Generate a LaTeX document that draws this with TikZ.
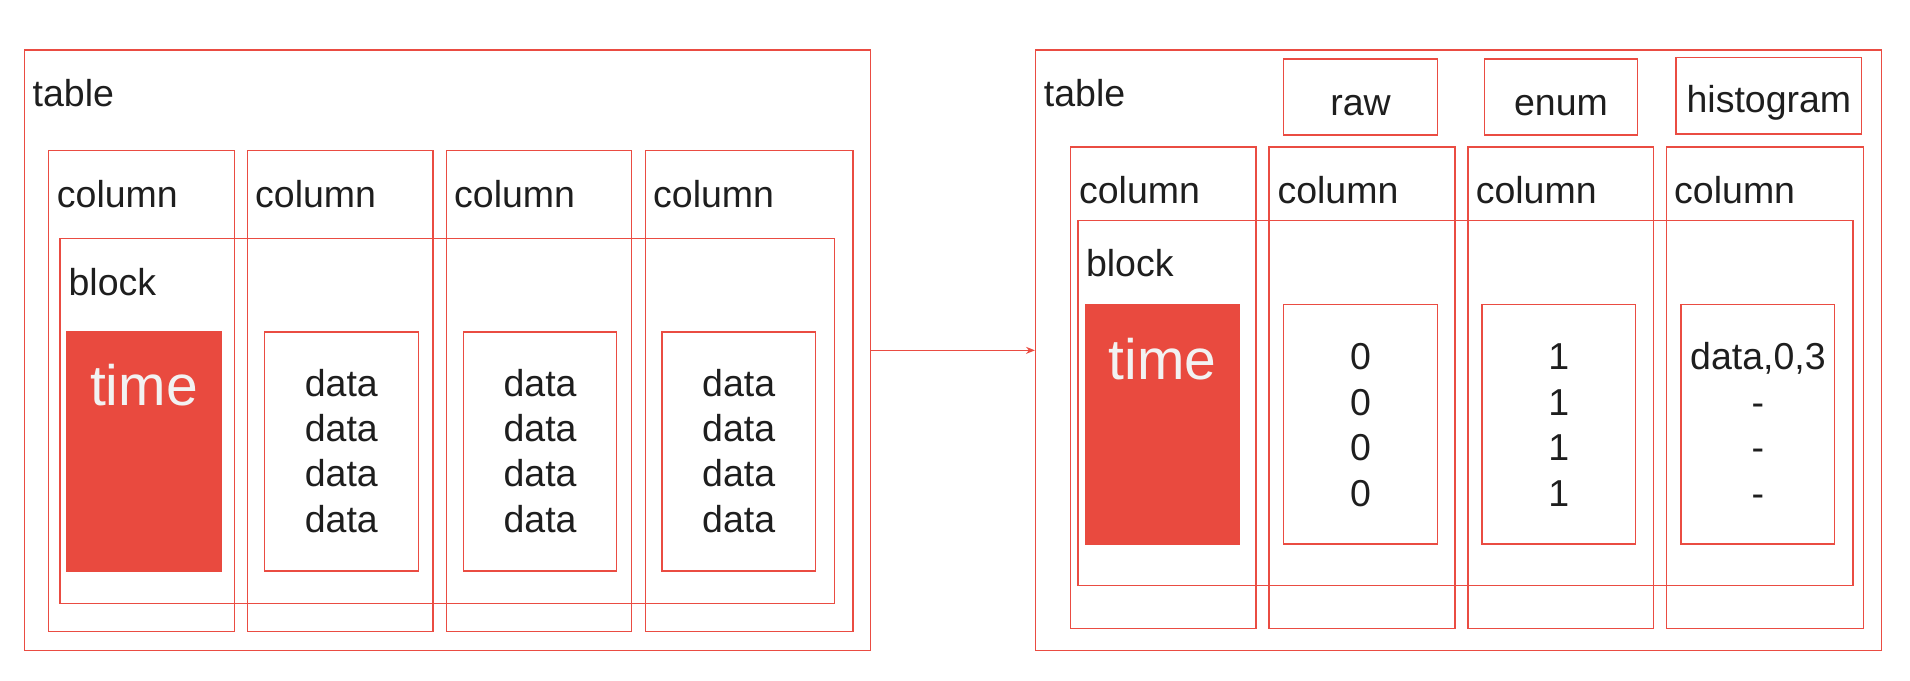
\documentclass[tikz,border=0pt]{standalone}
\usepackage{fontspec}
\setmainfont{Liberation Sans}
\usetikzlibrary{fit,arrows.meta,calc}
\definecolor{redline}{RGB}{234,76,66}
\definecolor{redfill}{RGB}{233,74,63}
\definecolor{txt}{RGB}{30,30,30}
\definecolor{timetxt}{RGB}{242,242,242}
\tikzset{
  box/.style={draw=redline, line width=1.4pt, inner sep=0pt},
  timebox/.style={fill=redfill, draw=none, inner sep=0pt},
  lbl/.style={anchor=base west, inner sep=0pt, text=txt, font=\fontsize{37.5}{45}\selectfont},
  val/.style={anchor=base, inner sep=0pt, text=txt, font=\fontsize{37.5}{45}\selectfont},
  timelbl/.style={anchor=base, inner sep=0pt, text=timetxt, font=\fontsize{57}{62}\selectfont},
  link/.style={draw=redline, line width=1.4pt, -{Stealth[length=9pt,width=7pt]}}
}
\begin{document}
\begin{tikzpicture}[x=1pt,y=-1pt]
\useasboundingbox (0,0) rectangle (1910,680);
% ---------------- left table
\node[box, fit={(24.5,50) (870.6,650.7)}] (tl) {};
\node[lbl] (tl-lbl) at (32.5,106.7) {table};
\node[box, fit={(48.4,150.7) (234.5,631.7)}] (lc1) {};
\node[box, fit={(247.4,150.7) (432.9,631.7)}] (lc2) {};
\node[box, fit={(446.3,150.7) (631.2,631.7)}] (lc3) {};
\node[box, fit={(645.3,150.7) (852.9,631.7)}] (lc4) {};
\node[lbl] (lc1-lbl) at (56.7,207.3) {column};
\node[lbl] (lc2-lbl) at (255,207.3) {column};
\node[lbl] (lc3-lbl) at (454,207.3) {column};
\node[lbl] (lc4-lbl) at (653,207.3) {column};
\node[box, fit={(60,238.7) (834.5,603.3)}] (lb) {};
\node[lbl] (lb-lbl) at (68.4,295) {block};
\node[timebox, fit={(66.1,331.3) (221.6,571.7)}] (lt) {};
\node[timelbl] (lt-lbl) at (143.9,405.7) {time};
\node[box, fit={(264.5,332) (418.2,571)}] (ld1) {};
\node[box, fit={(463.5,332) (616.6,571)}] (ld2) {};
\node[box, fit={(661.9,332) (815.5,571)}] (ld3) {};
\foreach \n in {ld1,ld2,ld3}{
  \foreach \y [count=\i] in {397.3,441.7,487.3,532.7}{
    \node[val] (\n-v\i) at ($(\n.north)+(0,\y-332)$) {data};
  }
}
% ---------------- right table
\node[box, fit={(1035.7,50) (1881.2,650.7)}] (tr) {};
\node[lbl] (tr-lbl) at (1043.7,106.7) {table};
\node[box, fit={(1283.7,59) (1437.3,135)}] (raw) {};
\node[box, fit={(1484.5,59) (1637.6,135)}] (enum) {};
\node[box, fit={(1676.1,57.7) (1861.6,134)}] (hist) {};
\node[val] (raw-lbl) at (1360.5,115) {raw};
\node[val] (enum-lbl) at (1561,115) {enum};
\node[val] (hist-lbl) at (1768.9,112.7) {histogram};
\node[box, fit={(1070.6,147) (1256.1,628.3)}] (rc1) {};
\node[box, fit={(1269,147) (1455.1,628.3)}] (rc2) {};
\node[box, fit={(1468,147) (1653.5,628.3)}] (rc3) {};
\node[box, fit={(1666.3,147) (1863.5,628.3)}] (rc4) {};
\node[lbl] (rc1-lbl) at (1078.9,203.3) {column};
\node[lbl] (rc2-lbl) at (1277.3,203.3) {column};
\node[lbl] (rc3-lbl) at (1475.6,203.3) {column};
\node[lbl] (rc4-lbl) at (1674,203.3) {column};
\node[box, fit={(1078,220.7) (1853,585.3)}] (rb) {};
\node[lbl] (rb-lbl) at (1085.8,276.7) {block};
\node[timebox, fit={(1084.7,304) (1240.2,544.7)}] (rt) {};
\node[timelbl] (rt-lbl) at (1162.5,379.3) {time};
\node[box, fit={(1283.7,304.3) (1437.3,544)}] (rd1) {};
\node[box, fit={(1482,304.3) (1635.7,544)}] (rd2) {};
\node[box, fit={(1681,304.3) (1834.7,544)}] (rd3) {};
\node[val] (rd1-v1) at (1360.5,369) {0};
\node[val] (rd1-v2) at (1360.5,415) {0};
\node[val] (rd1-v3) at (1360.5,460.7) {0};
\node[val] (rd1-v4) at (1360.5,506.7) {0};
\node[val] (rd2-v1) at (1558.9,369) {1};
\node[val] (rd2-v2) at (1558.9,415) {1};
\node[val] (rd2-v3) at (1558.9,460.7) {1};
\node[val] (rd2-v4) at (1558.9,506.7) {1};
\node[val] (rd3-v1) at (1757.9,369) {data,0,3};
\node[val] (rd3-v2) at (1757.9,415) {-};
\node[val] (rd3-v3) at (1757.9,460.7) {-};
\node[val] (rd3-v4) at (1757.9,506.7) {-};
% ---------------- connector
\draw[link] (tl.east) -- (tr.west);
\end{tikzpicture}
\end{document}
